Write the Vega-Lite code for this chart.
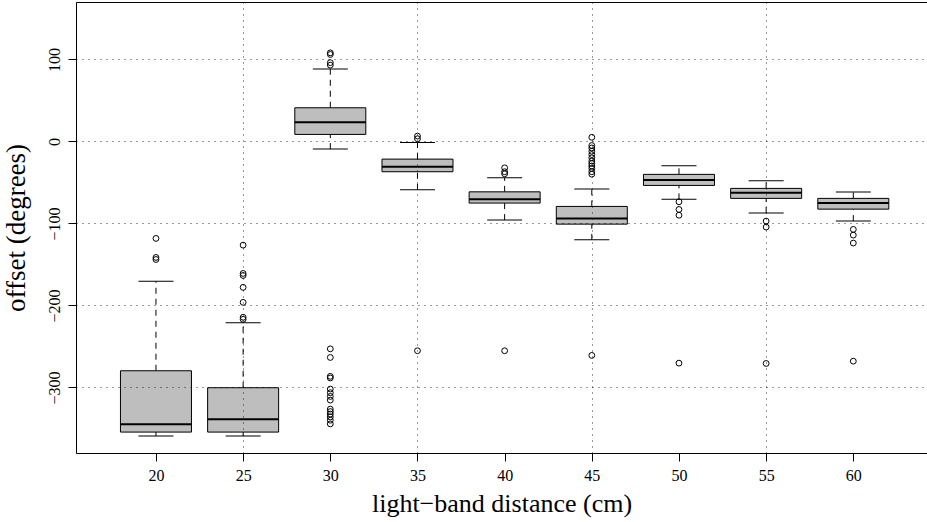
{
  "$schema": "https://vega.github.io/schema/vega-lite/v6.json",
  "width": 851,
  "height": 451,
  "autosize": {"type": "none"},
  "padding": {"left": 76, "top": 2, "right": 0, "bottom": 69},
  "background": "white",
  "config": {
    "view": {"stroke": null},
    "font": "Liberation Serif",
    "axis": {
      "domainColor": "black",
      "tickColor": "black",
      "labelColor": "black",
      "titleColor": "black",
      "labelFont": "Liberation Serif",
      "titleFont": "Liberation Serif",
      "titleFontWeight": "normal",
      "gridColor": "black",
      "gridDash": [1, 5],
      "gridOpacity": 0.8
    }
  },
  "datasets": {
    "boxes": [
      {"distance": 20, "lower": -359.4, "q1": -354.5, "median": -344.8, "q3": -279.7, "upper": -170.4},
      {"distance": 25, "lower": -359.4, "q1": -354.5, "median": -338.7, "q3": -300.4, "upper": -221.2},
      {"distance": 30, "lower": -9.4, "q1": 8.5, "median": 23.5, "q3": 41, "upper": 88.2},
      {"distance": 35, "lower": -59, "q1": -37, "median": -31, "q3": -21.6, "upper": -1.2},
      {"distance": 40, "lower": -96, "q1": -75.2, "median": -70.4, "q3": -61.5, "upper": -44.4},
      {"distance": 45, "lower": -120, "q1": -100.9, "median": -93.9, "q3": -79.3, "upper": -58.2},
      {"distance": 50, "lower": -70.7, "q1": -53.7, "median": -47.2, "q3": -40.2, "upper": -29.8},
      {"distance": 55, "lower": -87.4, "q1": -69.5, "median": -62.7, "q3": -57.3, "upper": -48},
      {"distance": 60, "lower": -97.2, "q1": -82.6, "median": -75.2, "q3": -69.5, "upper": -61.8}
    ],
    "outliers": [
      {"distance": 20, "offset": -118.3},
      {"distance": 20, "offset": -141.5},
      {"distance": 20, "offset": -144},
      {"distance": 25, "offset": -126.5},
      {"distance": 25, "offset": -161},
      {"distance": 25, "offset": -163.5},
      {"distance": 25, "offset": -178},
      {"distance": 25, "offset": -196.3},
      {"distance": 25, "offset": -214.5},
      {"distance": 25, "offset": -217},
      {"distance": 30, "offset": 108},
      {"distance": 30, "offset": 106},
      {"distance": 30, "offset": 96},
      {"distance": 30, "offset": 93},
      {"distance": 30, "offset": -253},
      {"distance": 30, "offset": -263.5},
      {"distance": 30, "offset": -286.5},
      {"distance": 30, "offset": -288.5},
      {"distance": 30, "offset": -302},
      {"distance": 30, "offset": -306.5},
      {"distance": 30, "offset": -311},
      {"distance": 30, "offset": -315.5},
      {"distance": 30, "offset": -326.5},
      {"distance": 30, "offset": -329.5},
      {"distance": 30, "offset": -332.5},
      {"distance": 30, "offset": -336},
      {"distance": 30, "offset": -340},
      {"distance": 30, "offset": -344.5},
      {"distance": 35, "offset": 6.5},
      {"distance": 35, "offset": 3.2},
      {"distance": 35, "offset": -255.3},
      {"distance": 40, "offset": -32.2},
      {"distance": 40, "offset": -37},
      {"distance": 40, "offset": -39.5},
      {"distance": 40, "offset": -255.3},
      {"distance": 45, "offset": 5},
      {"distance": 45, "offset": -5},
      {"distance": 45, "offset": -8},
      {"distance": 45, "offset": -12},
      {"distance": 45, "offset": -16},
      {"distance": 45, "offset": -20},
      {"distance": 45, "offset": -24},
      {"distance": 45, "offset": -27},
      {"distance": 45, "offset": -30},
      {"distance": 45, "offset": -33},
      {"distance": 45, "offset": -37},
      {"distance": 45, "offset": -40},
      {"distance": 45, "offset": -261},
      {"distance": 50, "offset": -73.7},
      {"distance": 50, "offset": -83},
      {"distance": 50, "offset": -90},
      {"distance": 50, "offset": -270.4},
      {"distance": 55, "offset": -97.2},
      {"distance": 55, "offset": -104.5},
      {"distance": 55, "offset": -270.8},
      {"distance": 60, "offset": -107.3},
      {"distance": 60, "offset": -114.3},
      {"distance": 60, "offset": -124},
      {"distance": 60, "offset": -268}
    ]
  },
  "layer": [
    {
      "data": {"name": "boxes"},
      "mark": {"type": "rule", "color": "black", "strokeWidth": 1, "strokeDash": [6, 5]},
      "encoding": {
        "x": {
          "field": "distance", "type": "quantitative",
          "scale": {"domain": [15.7, 63.94], "nice": false, "zero": false},
          "axis": {
            "values": [20, 25, 30, 35, 40, 45, 50, 55, 60],
            "format": "d",
            "grid": false,
            "tickSize": 8,
            "labelFontSize": 16,
            "labelPadding": 6,
            "title": "light−band distance (cm)",
            "titleFontSize": 26,
            "titlePadding": 7
          }
        },
        "y": {
          "field": "q3", "type": "quantitative",
          "scale": {"domain": [-380, 170], "nice": false, "zero": false},
          "axis": {
            "values": [-300, -200, -100, 0, 100],
            "grid": true,
            "zindex": 1,
            "tickSize": 8,
            "labelAngle": -90,
            "labelFontSize": 16,
            "labelPadding": 6,
            "title": "offset (degrees)",
            "titleFontSize": 27,
            "titlePadding": 16
          }
        },
        "y2": {"field": "upper"}
      }
    },
    {
      "data": {"name": "boxes"},
      "mark": {"type": "rule", "color": "black", "strokeWidth": 1, "strokeDash": [6, 5]},
      "encoding": {
        "x": {"field": "distance", "type": "quantitative", "axis": null},
        "y": {"field": "lower", "type": "quantitative"},
        "y2": {"field": "q1"}
      }
    },
    {
      "data": {"name": "boxes"},
      "mark": {"type": "bar", "size": 71, "fill": "#BEBEBE", "stroke": "black", "strokeWidth": 1},
      "encoding": {
        "x": {"field": "distance", "type": "quantitative", "axis": null},
        "y": {"field": "q1", "type": "quantitative"},
        "y2": {"field": "q3"}
      }
    },
    {
      "data": {"name": "boxes"},
      "mark": {"type": "tick", "orient": "horizontal", "size": 71, "thickness": 2, "color": "black", "opacity": 1},
      "encoding": {
        "x": {"field": "distance", "type": "quantitative", "axis": null},
        "y": {"field": "median", "type": "quantitative"}
      }
    },
    {
      "data": {"name": "boxes"},
      "mark": {"type": "tick", "orient": "horizontal", "size": 35, "thickness": 1, "color": "black", "opacity": 1},
      "encoding": {
        "x": {"field": "distance", "type": "quantitative", "axis": null},
        "y": {"field": "upper", "type": "quantitative"}
      }
    },
    {
      "data": {"name": "boxes"},
      "mark": {"type": "tick", "orient": "horizontal", "size": 35, "thickness": 1, "color": "black", "opacity": 1},
      "encoding": {
        "x": {"field": "distance", "type": "quantitative", "axis": null},
        "y": {"field": "lower", "type": "quantitative"}
      }
    },
    {
      "data": {"name": "outliers"},
      "mark": {"type": "point", "shape": "circle", "size": 34, "filled": false, "color": "black", "strokeWidth": 1, "opacity": 1},
      "encoding": {
        "x": {
          "field": "distance", "type": "quantitative",
          "axis": {
            "orient": "top",
            "values": [25, 35, 45, 55],
            "grid": true,
            "zindex": 1,
            "ticks": false,
            "labels": false,
            "domain": true,
            "title": null
          }
        },
        "y": {"field": "offset", "type": "quantitative"}
      }
    }
  ],
  "resolve": {"axis": {"x": "independent"}}
}
